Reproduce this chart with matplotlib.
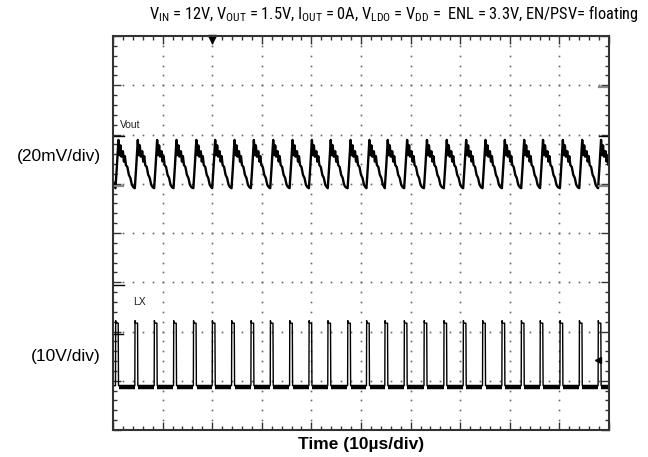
import matplotlib
matplotlib.use("Agg")
import matplotlib.pyplot as plt
import numpy as np

# scope screen: 10 x 8 divisions, y = 0 at screen centre
# LX rising edges (div)
lx_edges = [0.05, 0.44, 0.83, 1.22, 1.62, 2.00, 2.39, 2.78, 3.17, 3.56,
            3.95, 4.33, 4.73, 5.11, 5.48, 5.87, 6.27, 6.67, 7.06, 7.45,
            7.84, 8.23, 8.61, 9.01, 9.40, 9.78]
lx_low = -3.10
lx_high = -1.83
lx_width = 0.055

# one Vout cycle after each LX edge (offset in div, level in div)
vout_dt = [0.00, 0.03, 0.06, 0.08, 0.10, 0.12, 0.15, 0.17, 0.19, 0.21, 0.24, 0.27, 0.30, 0.33, 0.36]
vout_dv = [0.91, 1.38, 1.89, 1.58, 1.78, 1.55, 1.66, 1.45, 1.56, 1.38, 1.34, 1.18, 1.12, 0.98, 0.93]

title = (r"V$_{\mathrm{IN}}$ = 12V, V$_{\mathrm{OUT}}$ = 1.5V, I$_{\mathrm{OUT}}$ = 0A, "
         r"V$_{\mathrm{LDO}}$ = V$_{\mathrm{DD}}$ =  ENL = 3.3V, EN/PSV= floating")

plt.rcParams['font.family'] = ['Liberation Sans', 'DejaVu Sans']
plt.rcParams['mathtext.fontset'] = 'custom'
plt.rcParams['mathtext.rm'] = 'Roboto Condensed'

fig = plt.figure(figsize=(6.48, 4.57), dpi=100)
ax = fig.add_axes([113 / 648, 1 - 430 / 457, 496 / 648, 394 / 457])
ax.set_xlim(0, 10)
ax.set_ylim(-4, 4)

# graticule dots
for gx in range(1, 10):
    ys = np.arange(-4, 4.01, 0.2)
    ax.plot([gx] * len(ys), ys, ls='none', marker='s', ms=1.2, color='#666', mew=0)
for gy in range(-3, 4):
    xs = np.arange(0, 10.01, 0.2)
    ax.plot(xs, [gy] * len(xs), ls='none', marker='s', ms=1.2, color='#666', mew=0)

# build traces from the edge list
vt, vv = [], []
for k, e in enumerate(lx_edges):
    nxt = lx_edges[k + 1] if k + 1 < len(lx_edges) else 10.2
    for dt, dv in zip(vout_dt, vout_dv):
        if e + dt < nxt:
            vt.append(e + dt)
            vv.append(dv)
vt = [0.0] + vt
vv = [1.05] + vv
ax.plot(vt, vv, color='black', lw=1.7, solid_joinstyle='round')

lt, lv = [0.0], [lx_low]
for e in lx_edges:
    lt += [e, e + 0.004, e + 0.012, e + lx_width, e + lx_width + 0.006]
    lv += [lx_low, lx_high + 0.05, lx_high, lx_high, lx_low]
lt.append(10.0)
lv.append(lx_low)
ax.plot(lt, lv, color='black', lw=1.0)
for k, e in enumerate(lx_edges):
    nxt = lx_edges[k + 1] if k + 1 < len(lx_edges) else 10.0
    ax.plot([e + lx_width + 0.01, nxt - 0.005], [lx_low - 0.03, lx_low - 0.03],
            color='black', lw=3.2, solid_capstyle='butt')

# channel / trigger markers
ax.plot([0, 0.2], [0.95, 0.95], color='#888', lw=1.6, clip_on=False)
ax.plot([0, 0.22], [1.97, 1.97], color='black', lw=1.0)
ax.plot([0, 0.22], [-1.06, -1.06], color='black', lw=1.0)
ax.plot([0, 0.2], [-2.05, -2.05], color='black', lw=1.0)
ax.plot([9.8, 10], [2.97, 2.97], color='#888', lw=1.6)
ax.plot([9.8, 10], [1.97, 1.97], color='black', lw=1.0)
ax.plot([9.8, 10], [0.96, 0.96], color='#888', lw=1.6)
ax.plot([2.0], [3.93], marker='v', ms=6, color='black', clip_on=False)
ax.plot([9.78], [-2.58], marker='<', ms=4, color='black')

ax.text(0.14, 2.2, "Vout", fontsize=7.5, color='#222', va='center')
ax.text(0.4, -1.4, "LX", fontsize=7.5, color='#222', va='center')

ax.set_xticks(np.arange(0, 11, 1))
ax.set_xticks(np.arange(0, 10.01, 0.2), minor=True)
ax.set_yticks(np.arange(-4, 5, 1))
ax.set_yticks(np.arange(-4, 4.01, 0.2), minor=True)
ax.tick_params(which='both', direction='in', top=True, right=True,
               labelbottom=False, labelleft=False, color='#333', width=1.0)
ax.tick_params(which='major', length=6)
ax.tick_params(which='minor', length=3)
for s in ax.spines.values():
    s.set_color('#333')
    s.set_linewidth(1.5)

fig.text(394 / 648, 1 - 14 / 457, title, ha='center', va='center', fontsize=11.8,
         family=['Roboto Condensed', 'Liberation Sans Narrow', 'Liberation Sans'])
fig.text(101 / 648, 1 - 157 / 457, "(20mV/div)", ha='right', va='center', fontsize=12.5)
fig.text(101 / 648, 1 - 356 / 457, "(10V/div)", ha='right', va='center', fontsize=12.5)
fig.text(361 / 648, 1 - 445 / 457, "Time (10µs/div)", ha='center', va='center',
         fontsize=12.5, fontweight='bold')

fig.savefig("out.png", dpi=100)
